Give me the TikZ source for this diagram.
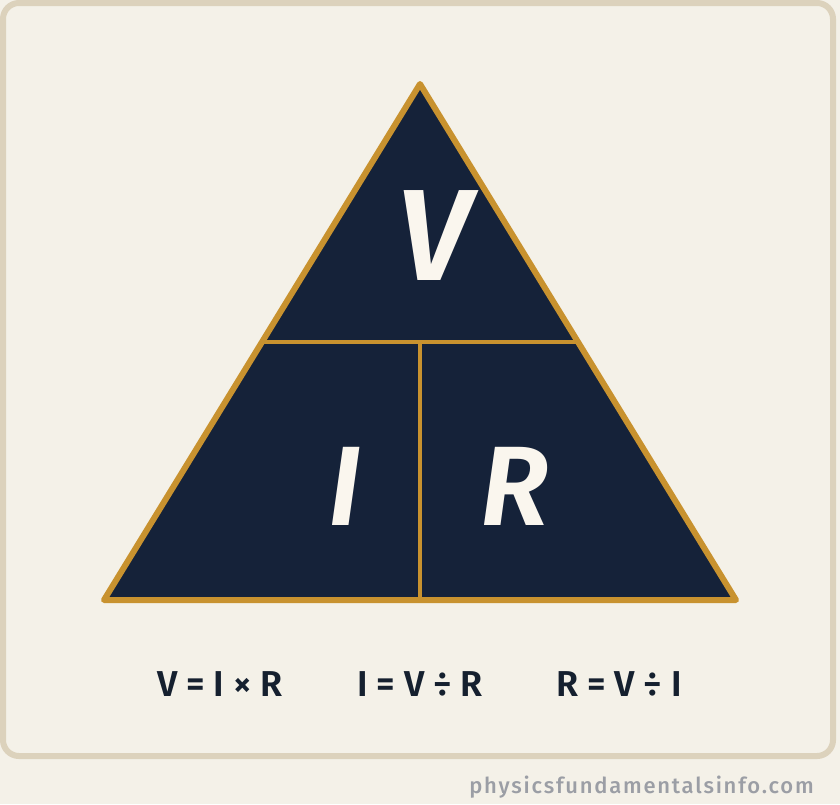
\documentclass[tikz,border=0pt]{standalone}
\usepackage{fontspec}
\setmainfont{Fira Sans}
\newfontfamily\semib{Fira Sans SemiBold}
\newfontfamily\semibit{Fira Sans SemiBold Italic}
\newfontfamily\markfont{Fira Sans Medium}[LetterSpace=8]
\definecolor{bgc}{HTML}{F4F1E8}
\definecolor{framec}{HTML}{DCD2BC}
\definecolor{navy}{HTML}{152239}
\definecolor{gold}{HTML}{C8922F}
\definecolor{creamtxt}{HTML}{FAF6EE}
\definecolor{formtxt}{HTML}{15202F}
\definecolor{marktxt}{HTML}{9B9EA5}
\begin{document}
\begin{tikzpicture}[x=1pt,y=-1pt,
  bigletter/.style={text=creamtxt,font=\fontsize{130}{130}\semibit,inner sep=0pt,anchor=base},
  midletter/.style={text=creamtxt,font=\fontsize{113}{113}\semibit,inner sep=0pt,anchor=base},
  formula/.style={text=formtxt,font=\fontsize{36}{36}\semib,inner sep=0pt,anchor=base},
  divline/.style={draw=gold,line width=4.5pt},
]
\useasboundingbox (0,0) rectangle (840,804);
\fill[bgc] (0,0) rectangle (840,804);
\draw[framec,line width=6pt,rounded corners=16pt] (3,3) rectangle (833,756);
\coordinate (top) at (420,84);
\coordinate (bl) at (104,600);
\coordinate (br) at (736,600);
\coordinate (ml) at (262,342);
\coordinate (mr) at (578,342);
\coordinate (mc) at (420,342);
\coordinate (bc) at (420,600);
\fill[navy] (top) -- (bl) -- (br) -- cycle;
\draw[divline] (ml) -- (mr);
\draw[divline] (mc) -- (bc);
\draw[gold,line width=6pt,line join=round] (top) -- (bl) -- (br) -- cycle;
\node[bigletter] (v) at (434,280) {V};
\node[midletter] (i) at (345,525) {I};
\node[midletter] (r) at (515,525) {R};
\node[formula] (f1) at (220,696) {V = I × R};
\node[formula] (f2) at (420,696) {I = V ÷ R};
\node[formula] (f3) at (619,696) {R = V ÷ I};
\node[text=marktxt,font=\fontsize{22}{22}\markfont,inner sep=0pt,anchor=base east] (mark) at (814,793) {physicsfundamentalsinfo.com};
\end{tikzpicture}
\end{document}
